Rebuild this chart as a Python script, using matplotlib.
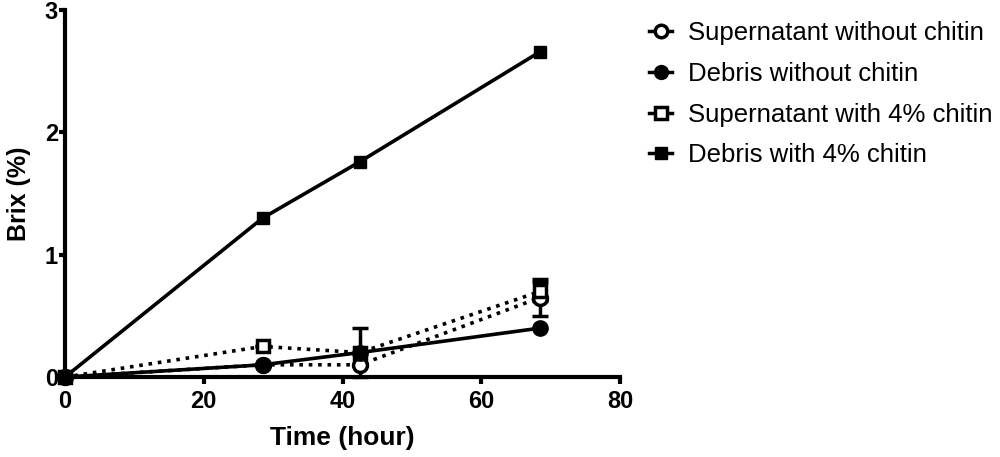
import matplotlib
matplotlib.use("Agg")
import matplotlib.pyplot as plt
from matplotlib.lines import Line2D

plt.rcParams["font.family"] = ["Liberation Sans", "DejaVu Sans"]

# data
time_h = [0, 28.5, 42.5, 68.5]
sup_no_chitin = [0, 0.1, 0.1, 0.65]
sup_no_chitin_err = [0, 0, 0, 0.15]
deb_no_chitin = [0, 0.1, 0.2, 0.4]
sup_chitin = [0, 0.25, 0.2, 0.7]
sup_chitin_err = [0, 0, 0.2, 0.08]
deb_chitin = [0, 1.3, 1.76, 2.66]

labels = ["Supernatant without chitin", "Debris without chitin",
          "Supernatant with 4% chitin", "Debris with 4% chitin"]

fig = plt.figure(figsize=(10, 4.57), dpi=100)
ax = fig.add_axes([0.065, 0.175, 0.555, 0.803])

lw = 2.6
dots = (0, (1, 1.6))

ax.errorbar(time_h, sup_no_chitin, yerr=sup_no_chitin_err, color="black", lw=lw,
            ls=dots, marker="o", ms=10, mfc="white", mec="black", mew=2.5,
            capsize=6, capthick=2.5, elinewidth=2.5, clip_on=False, zorder=3)
ax.plot(time_h, deb_no_chitin, color="black", lw=lw, ls="-", marker="o", ms=11,
        clip_on=False, zorder=4)
ax.errorbar(time_h, sup_chitin, yerr=sup_chitin_err, color="black", lw=lw,
            ls=dots, marker="s", ms=9, mfc="white", mec="black", mew=2.5,
            capsize=6, capthick=2.5, elinewidth=2.5, clip_on=False, zorder=3)
ax.plot(time_h, deb_chitin, color="black", lw=lw, ls="-", marker="s", ms=9,
        clip_on=False, zorder=4)

ax.set_xlim(0, 80)
ax.set_ylim(0, 3)
ax.set_xticks([0, 20, 40, 60, 80])
ax.set_yticks([0, 1, 2, 3])
for s in ["top", "right"]:
    ax.spines[s].set_visible(False)
for s in ["left", "bottom"]:
    ax.spines[s].set_linewidth(3)
ax.tick_params(axis="x", length=5, width=3, pad=4, labelsize=17)
ax.tick_params(axis="y", length=4, width=3, pad=1, labelsize=17)
for t in ax.get_xticklabels() + ax.get_yticklabels():
    t.set_fontweight("bold")

ax.set_xlabel("Time (hour)", fontsize=19, fontweight="bold", labelpad=10)
ax.set_ylabel("Brix (%)", fontsize=18, fontweight="bold", labelpad=10)

# legend proxies (marker with a short solid stub)
handles = [
    Line2D([], [], color="black", lw=2.5, marker="o", ms=9, mfc="white", mew=2.5),
    Line2D([], [], color="black", lw=2.5, marker="o", ms=10),
    Line2D([], [], color="black", lw=2.5, marker="s", ms=8, mfc="white", mew=2.5),
    Line2D([], [], color="black", lw=2.5, marker="s", ms=8),
]
fig.legend(handles, labels, loc="upper left", bbox_to_anchor=(0.626, 1.004),
           frameon=False, fontsize=18.5, handlelength=0.9, handletextpad=0.6,
           labelspacing=0.65)

fig.savefig("out.png", dpi=100)
